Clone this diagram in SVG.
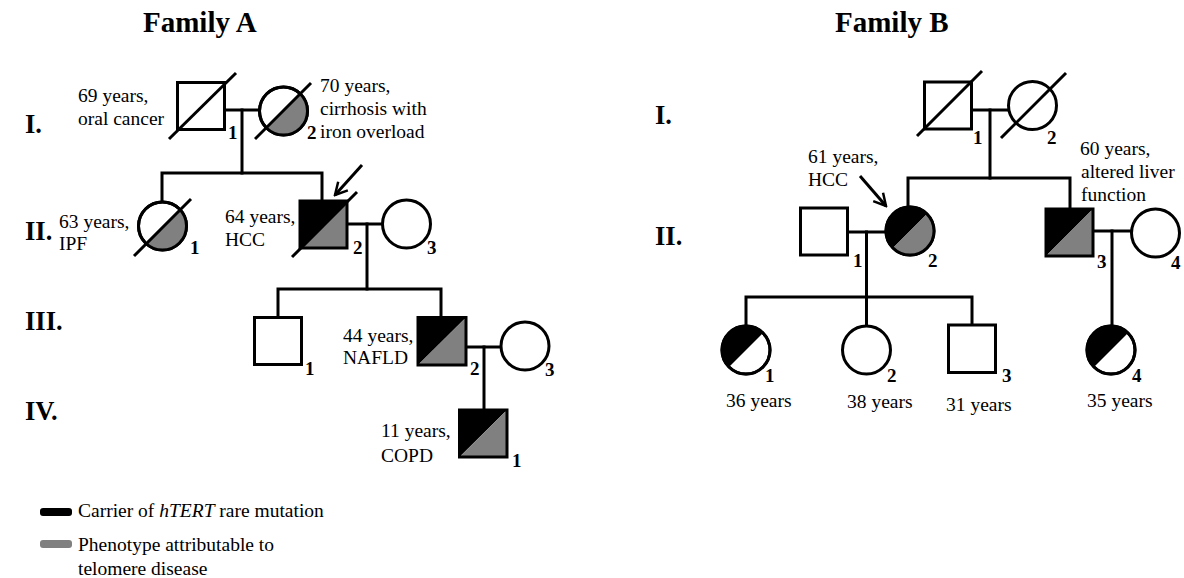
<svg xmlns="http://www.w3.org/2000/svg" width="1184" height="578" viewBox="0 0 1184 578">
<defs>
<style>
text{font-family:"Liberation Serif","Times New Roman",serif;fill:#000}
.t{font-size:19.5px}
.n{font-size:19px;font-weight:bold}
.g{font-size:26.5px;font-weight:bold}
.h{font-size:29px;font-weight:bold}
.s{fill:#fff;stroke:#000;stroke-width:3}
.o{fill:none;stroke:#000;stroke-width:3}
.k{fill:#000}
.y{fill:#808080}
.c{fill:none;stroke:#000;stroke-width:3;stroke-linejoin:miter;stroke-linecap:square}
.d{stroke:#000;stroke-width:3}
</style>
<marker id="ah" markerUnits="userSpaceOnUse" markerWidth="16" markerHeight="16" viewBox="0 0 16 16" refX="14" refY="8" orient="auto">
<path d="M2,1.5 L14,8 L2,14.5" fill="none" stroke="#000" stroke-width="2.5"/>
</marker>
</defs>
<rect width="1184" height="578" fill="#fff"/>

<g id="titles">
<text class="h" x="143" y="32">Family A</text>
<text class="h" x="835" y="32">Family B</text>
<text class="g" x="25" y="133">I.</text>
<text class="g" x="25" y="240">II.</text>
<text class="g" x="25" y="330">III.</text>
<text class="g" x="25" y="420">IV.</text>
<text class="g" x="655" y="124">I.</text>
<text class="g" x="655" y="245">II.</text>
</g>

<g id="connectors">
<line class="c" x1="225" y1="110" x2="259" y2="110"/>
<polyline class="c" points="242,110 242,173"/>
<polyline class="c" points="162,202 162,173 322,173 322,201"/>
<line class="c" x1="347" y1="224" x2="383" y2="224"/>
<polyline class="c" points="367,224 367,289"/>
<polyline class="c" points="278,317 278,289 441,289 441,317"/>
<line class="c" x1="466" y1="347" x2="501" y2="347"/>
<polyline class="c" points="484,347 484,410"/>
<line class="c" x1="972" y1="110" x2="1008" y2="110"/>
<polyline class="c" points="990,110 990,178"/>
<polyline class="c" points="908,207 908,178 1070,178 1070,209"/>
<line class="c" x1="847" y1="232" x2="886" y2="232"/>
<polyline class="c" points="866.5,232 866.5,326"/>
<polyline class="c" points="746,326 746,297 972,297 972,325"/>
<line class="c" x1="1093" y1="231" x2="1131" y2="231"/>
<polyline class="c" points="1112,231 1112,326"/>
<line class="d" x1="362" y1="165" x2="335" y2="195" marker-end="url(#ah)"/>
<line class="d" x1="860" y1="176" x2="886" y2="206" marker-end="url(#ah)"/>
</g>

<g id="A-I-1">
<rect class="s" x="177.5" y="82.5" width="47" height="47"/>
<line class="d" x1="169" y1="139" x2="236" y2="73"/>
<text class="n" x="228" y="139">1</text>
<text class="t" x="78" y="102">69 years,</text>
<text class="t" x="78" y="125">oral cancer</text>
</g>

<g id="A-I-2">
<circle class="s" cx="283.5" cy="111" r="24"/>
<path class="y" d="M300.5,94 A24,24 0 0 1 266.5,128 Z"/>
<circle class="o" cx="283.5" cy="111" r="24"/>
<line class="d" x1="255" y1="139" x2="311" y2="83"/>
<text class="n" x="307" y="139">2</text>
<text class="t" x="320" y="92">70 years,</text>
<text class="t" x="320" y="115">cirrhosis with</text>
<text class="t" x="320" y="138">iron overload</text>
</g>

<g id="A-II-1">
<circle class="s" cx="162.5" cy="226" r="24"/>
<path class="y" d="M179.5,209 A24,24 0 0 1 145.5,243 Z"/>
<circle class="o" cx="162.5" cy="226" r="24"/>
<line class="d" x1="134" y1="256" x2="191" y2="199"/>
<text class="n" x="190" y="254">1</text>
<text class="t" x="59" y="228">63 years,</text>
<text class="t" x="59" y="250">IPF</text>
</g>

<g id="A-II-2">
<path class="k" d="M300,201 L347,201 L300,248 Z"/>
<path class="y" d="M347,201 L347,248 L300,248 Z"/>
<rect class="o" x="300" y="201" width="47" height="47"/>
<line class="d" x1="292" y1="257" x2="357" y2="192"/>
<text class="n" x="353" y="254">2</text>
<text class="t" x="225" y="223">64 years,</text>
<text class="t" x="225" y="246">HCC</text>
</g>

<g id="A-II-3">
<circle class="s" cx="406.5" cy="224" r="24"/>
<text class="n" x="427" y="254">3</text>
</g>

<g id="A-III-1">
<rect class="s" x="254.5" y="317.5" width="47" height="47"/>
<text class="n" x="305" y="375">1</text>
</g>

<g id="A-III-2">
<path class="k" d="M418,317.5 L466,317.5 L418,365 Z"/>
<path class="y" d="M466,317.5 L466,365 L418,365 Z"/>
<rect class="o" x="418" y="317.5" width="48" height="47.5"/>
<text class="n" x="470" y="375">2</text>
<text class="t" x="343" y="342">44 years,</text>
<text class="t" x="343" y="364">NAFLD</text>
</g>

<g id="A-III-3">
<circle class="s" cx="525" cy="346" r="24"/>
<text class="n" x="545" y="376">3</text>
</g>

<g id="A-IV-1">
<path class="k" d="M459.5,410 L507,410 L459.5,457 Z"/>
<path class="y" d="M507,410 L507,457 L459.5,457 Z"/>
<rect class="o" x="459.5" y="410" width="47.5" height="47"/>
<text class="n" x="512" y="467">1</text>
<text class="t" x="381" y="437">11 years,</text>
<text class="t" x="381" y="462">COPD</text>
</g>

<g id="B-I-1">
<rect class="s" x="924.5" y="82" width="47" height="47"/>
<line class="d" x1="917" y1="136" x2="982" y2="71"/>
<text class="n" x="973" y="144">1</text>
</g>

<g id="B-I-2">
<circle class="s" cx="1032.5" cy="105.5" r="24"/>
<line class="d" x1="1001" y1="138" x2="1066" y2="73"/>
<text class="n" x="1047" y="144">2</text>
</g>

<g id="B-II-1">
<rect class="s" x="800.5" y="208" width="47" height="47"/>
<text class="n" x="853" y="267">1</text>
</g>

<g id="B-II-2">
<circle class="s" cx="910" cy="231" r="24"/>
<path class="k" d="M893,248 A24,24 0 0 1 927,214 Z"/>
<path class="y" d="M927,214 A24,24 0 0 1 893,248 Z"/>
<circle class="o" cx="910" cy="231" r="24"/>
<text class="n" x="928" y="267">2</text>
<text class="t" x="808" y="163">61 years,</text>
<text class="t" x="808" y="186">HCC</text>
</g>

<g id="B-II-3">
<path class="k" d="M1046,209 L1093,209 L1046,256 Z"/>
<path class="y" d="M1093,209 L1093,256 L1046,256 Z"/>
<rect class="o" x="1046" y="209" width="47" height="47"/>
<text class="n" x="1097" y="268">3</text>
<text class="t" x="1080" y="155">60 years,</text>
<text class="t" x="1081" y="178">altered liver</text>
<text class="t" x="1081" y="201">function</text>
</g>

<g id="B-II-4">
<circle class="s" cx="1155.5" cy="233" r="24"/>
<text class="n" x="1171" y="269">4</text>
</g>

<g id="B-III-1">
<circle class="s" cx="746" cy="350" r="24"/>
<path class="k" d="M729,367 A24,24 0 0 1 763,333 Z"/>
<circle class="o" cx="746" cy="350" r="24"/>
<text class="n" x="765" y="382">1</text>
<text class="t" x="726" y="407">36 years</text>
</g>

<g id="B-III-2">
<circle class="s" cx="866.5" cy="350" r="24"/>
<text class="n" x="887" y="382">2</text>
<text class="t" x="847" y="408">38 years</text>
</g>

<g id="B-III-3">
<rect class="s" x="948.5" y="325" width="47" height="47.5"/>
<text class="n" x="1002" y="382">3</text>
<text class="t" x="946" y="411">31 years</text>
</g>

<g id="B-III-4">
<circle class="s" cx="1111" cy="350" r="24"/>
<path class="k" d="M1094,367 A24,24 0 0 1 1128,333 Z"/>
<circle class="o" cx="1111" cy="350" r="24"/>
<text class="n" x="1132" y="382">4</text>
<text class="t" x="1087" y="407">35 years</text>
</g>

<g id="legend">
<rect class="k" x="40" y="508" width="32" height="8" rx="3"/>
<text class="t" x="78" y="517">Carrier of <tspan font-style="italic">hTERT</tspan> rare mutation</text>
<rect class="y" x="40" y="540" width="32" height="8" rx="3"/>
<text class="t" x="78" y="551">Phenotype attributable to</text>
<text class="t" x="78" y="575">telomere disease</text>
</g>
</svg>
